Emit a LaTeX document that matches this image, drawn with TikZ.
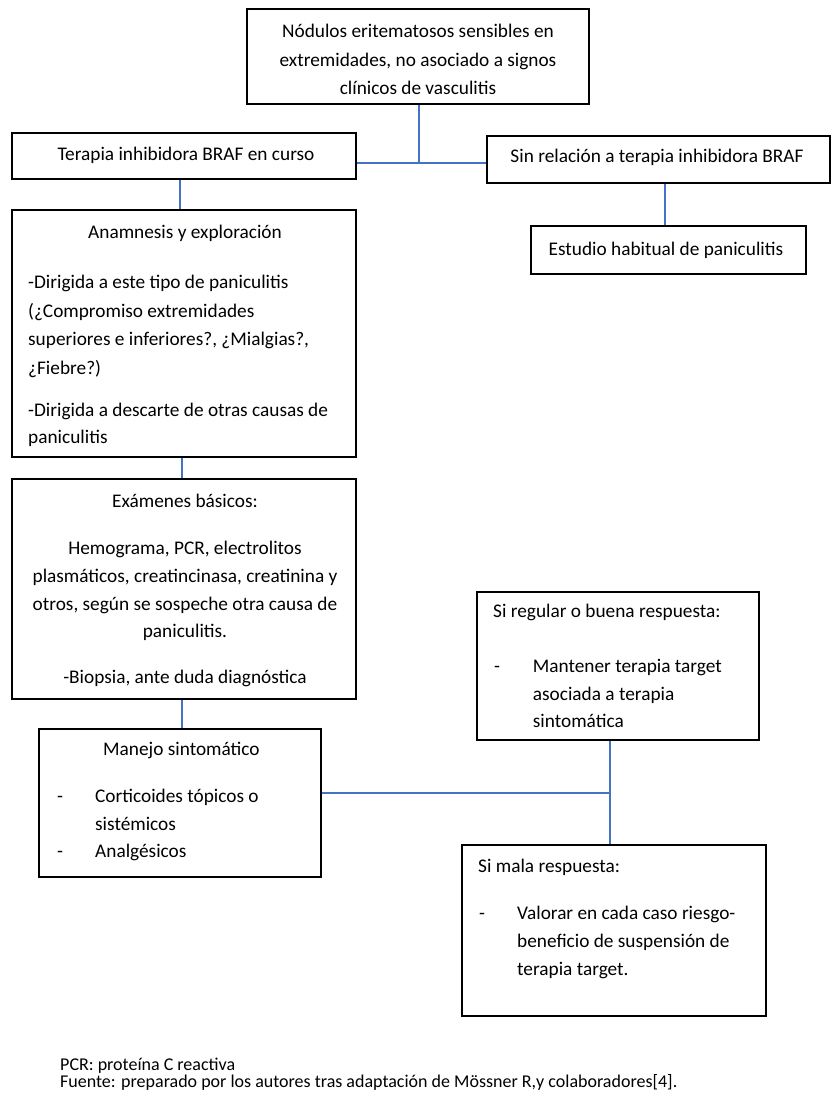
\documentclass[tikz,border=0pt]{standalone}
\usepackage{fontspec}
\setmainfont{Carlito}
\definecolor{connblue}{HTML}{4472C4}
\begin{document}
\begin{tikzpicture}[x=1pt,y=-1pt,
  box/.style={draw=black, line width=2pt, inner sep=0pt, fill=none},
  conn/.style={draw=connblue, line width=1.3pt},
  tl/.style={inner sep=0pt, anchor=base west, font=\fontsize{19.3}{23}\selectfont},
  tc/.style={inner sep=0pt, anchor=base, font=\fontsize{19.3}{23}\selectfont},
  foot/.style={inner sep=0pt, anchor=base west, font=\fontsize{18}{17}\selectfont}]
\useasboundingbox (0,0) rectangle (836,1106);
% boxes
\node[box, minimum width=342pt, minimum height=95pt] (top) at (418,56.5) {};
\node[box, minimum width=344pt, minimum height=46pt] (curso) at (184,156) {};
\node[box, minimum width=343pt, minimum height=47pt] (sinrel) at (658.5,159.5) {};
\node[box, minimum width=275pt, minimum height=48pt] (estudio) at (668.5,250) {};
\node[box, minimum width=344pt, minimum height=247pt] (anam) at (184,333.5) {};
\node[box, minimum width=344pt, minimum height=220pt] (exam) at (184,589) {};
\node[box, minimum width=282pt, minimum height=148pt] (manejo) at (180,803) {};
\node[box, minimum width=282pt, minimum height=148pt] (regular) at (618,666) {};
\node[box, minimum width=304pt, minimum height=171pt] (mala) at (614,930.5) {};
% connectors
\coordinate (j1) at (419,163);
\draw[conn] (j1 |- top.south) -- (j1);
\draw[conn] (curso.east |- j1) -- (sinrel.west |- j1);
\draw[conn] ([xshift=-4pt]curso.south) -- ([xshift=-4pt]anam.north);
\draw[conn] ([xshift=-3.5pt]sinrel.south -| estudio.north) -- ([xshift=-3.5pt]estudio.north);
\draw[conn] ([xshift=-2pt]anam.south) -- ([xshift=-2pt]exam.north);
\draw[conn] ([xshift=-2pt]exam.south) -- ([xshift=2pt]manejo.north);
\coordinate (j2) at (610,793);
\draw[conn] (regular.south -| j2) -- (mala.north -| j2);
\draw[conn] (manejo.east |- j2) -- (j2);
% texts: top
\node[tc] (t1) at (418,37) {Nódulos eritematosos sensibles en};
\node[tc] (t2) at (418,66) {extremidades, no asociado a signos};
\node[tc] (t3) at (418,94.5) {clínicos de vasculitis};
\node[tc] (t4) at (186,160.5) {Terapia inhibidora BRAF en curso};
\node[tc] (t5) at (657,162.5) {Sin relación a terapia inhibidora BRAF};
\node[tc] (t6) at (666,255.5) {Estudio habitual de paniculitis};
% anamnesis
\node[tc] (a0) at (185,238) {Anamnesis y exploración};
\node[tl] (a1) at (28,288.8) {-Dirigida a este tipo de paniculitis};
\node[tl] (a2) at (28,317.2) {(¿Compromiso extremidades};
\node[tl] (a3) at (28,345.6) {superiores e inferiores?, ¿Mialgias?,};
\node[tl] (a4) at (28,374) {¿Fiebre?)};
\node[tl] (a5) at (28,416) {-Dirigida a descarte de otras causas de};
\node[tl] (a6) at (28,443.5) {paniculitis};
% examenes
\node[tc] (e0) at (185,507.5) {Exámenes básicos:};
\node[tc] (e1) at (185,554.5) {Hemograma, PCR, electrolitos};
\node[tc] (e2) at (185,582) {plasmáticos, creatincinasa, creatinina y};
\node[tc] (e3) at (185,610) {otros, según se sospeche otra causa de};
\node[tc] (e4) at (185,637.5) {paniculitis.};
\node[tc] (e5) at (185,683.5) {-Biopsia, ante duda diagnóstica};
% manejo
\node[tl] (m0) at (103,755.5) {Manejo sintomático};
\node[tl] (md1) at (57,802.8) {-};
\node[tl] (m1) at (95,802.8) {Corticoides tópicos o};
\node[tl] (m2) at (95,830.5) {sistémicos};
\node[tl] (md2) at (57,857.2) {-};
\node[tl] (m3) at (95,857.2) {Analgésicos};
% regular
\node[tl] (r0) at (493,617.2) {Si regular o buena respuesta:};
\node[tl] (rd) at (494,672.2) {-};
\node[tl] (r1) at (532.7,672.2) {Mantener terapia target};
\node[tl] (r2) at (532.7,700) {asociada a terapia};
\node[tl] (r3) at (532.7,727.5) {sintomática};
% mala
\node[tl] (s0) at (478,872.5) {Si mala respuesta:};
\node[tl] (sd) at (479,919.5) {-};
\node[tl] (s1) at (517,919.5) {Valorar en cada caso riesgo-};
\node[tl] (s2) at (517,947.5) {beneficio de suspensión de};
\node[tl] (s3) at (517,975) {terapia target.};
% footer
\node[foot] (f1) at (60,1070) {PCR: proteína C reactiva};
\node[foot] (f2) at (60,1087) {Fuente: preparado por los autores tras adaptación de Mössner R,y colaboradores[4].};
\end{tikzpicture}
\end{document}
